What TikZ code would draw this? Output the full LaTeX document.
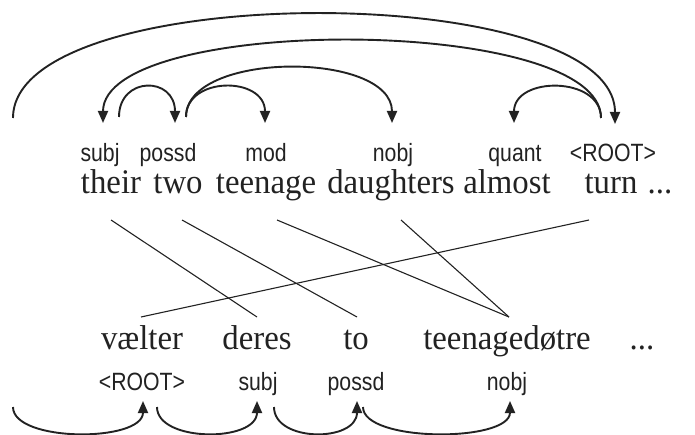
\documentclass[tikz,border=0pt]{standalone}
\usepackage{fontspec}
\setmainfont{Liberation Serif}[FakeStretch=0.95]
\newfontfamily\labfont{Liberation Sans}[FakeStretch=0.85]
\usetikzlibrary{arrows.meta}
\definecolor{ink}{HTML}{222222}
\begin{document}
\begin{tikzpicture}[x=1pt,y=-1pt,
  word/.style={font=\fontsize{34.5}{40}\selectfont, inner sep=0pt, anchor=base, text=ink},
  lab/.style={font=\labfont\fontsize{25}{29}\selectfont, inner sep=0pt, anchor=base, text=ink},
  deparc/.style={line width=1.9pt, draw=ink},
  deparrow/.style={deparc, -{Triangle[length=12pt,width=10pt]}},
  alignline/.style={line width=1.1pt, draw=ink}]
\useasboundingbox (0,0) rectangle (695,435);
% ---- English words and labels
\node[word] (their) at (111,194) {their};
\node[word] (two) at (178,194) {two};
\node[word] (teenage) at (266,194) {teenage};
\node[word] (daughters) at (391,194) {daughters};
\node[word] (almost) at (507,194) {almost};
\node[word] (turn) at (611,194) {turn};
\node[word] (dotsE) at (660,194) {...};
\node[lab] (lsubj) at (100,162) {subj};
\node[lab] (lpossd) at (168,162) {possd};
\node[lab] (lmod) at (266,162) {mod};
\node[lab] (lnobj) at (393,162) {nobj};
\node[lab] (lquant) at (515,162) {quant};
\node[lab] (lroot) at (613,162) {<ROOT>};
% ---- Danish words and labels
\node[word] (vaelter) at (142,349) {vælter};
\node[word] (deres) at (257,349) {deres};
\node[word] (to) at (356,349) {to};
\node[word] (teenagedotre) at (507,349) {teenagedøtre};
\node[word] (dotsD) at (642,349) {...};
\node[lab] (droot) at (142,390) {<ROOT>};
\node[lab] (dsubj) at (258,390) {subj};
\node[lab] (dpossd) at (356,390) {possd};
\node[lab] (dnobj) at (507,390) {nobj};
% ---- top arc endpoints
\coordinate (rootE) at (13,118);
\coordinate (turnOut) at (601,118);
\coordinate (theirOut) at (119,117);
\coordinate (twoOut) at (186,117);
\coordinate (subjIn) at (103,123);
\coordinate (twoIn) at (175,123);
\coordinate (teenIn) at (265,123);
\coordinate (daughIn) at (392,123);
\coordinate (almIn) at (514,123);
\coordinate (turnIn) at (615,124);
% ---- top arcs
\draw[deparrow] (rootE) .. controls (13,-21) and (615,-21) .. (turnIn);
\draw[deparrow] (turnOut) .. controls (601,14.5) and (103,14.5) .. (subjIn);
\draw[deparrow] (theirOut) .. controls (119,76) and (175,76) .. (twoIn);
\draw[deparrow] (twoOut) .. controls (186,76) and (265,76) .. (teenIn);
\draw[deparrow] (twoOut) .. controls (186,50.7) and (392,50.7) .. (daughIn);
\draw[deparrow] (turnOut) .. controls (601,76) and (514,76) .. (almIn);
% ---- bottom arc endpoints
\coordinate (rootD) at (13,407);
\coordinate (vaelOut) at (157,407);
\coordinate (deresOut) at (274,407);
\coordinate (toOut) at (363,407);
\coordinate (vaelIn) at (143,401);
\coordinate (deresIn) at (257,401);
\coordinate (toIn) at (357,401);
\coordinate (tdIn) at (510,401);
% ---- bottom arcs
\draw[deparrow] (rootD) .. controls (13,442.5) and (143,442.5) .. (vaelIn);
\draw[deparrow] (vaelOut) .. controls (157,442.5) and (257,442.5) .. (deresIn);
\draw[deparrow] (deresOut) .. controls (274,442.5) and (357,442.5) .. (toIn);
\draw[deparrow] (toOut) .. controls (363,442.5) and (510,442.5) .. (tdIn);
% ---- alignment lines
\coordinate (aTheir) at (111,220);
\coordinate (aTwo) at (182,220);
\coordinate (aTeen) at (277,220);
\coordinate (aDaugh) at (401,220);
\coordinate (aTurn) at (589,220);
\coordinate (bDeres) at (257,317);
\coordinate (bTo) at (357,317);
\coordinate (bTD) at (509,317);
\coordinate (bVael) at (141,317);
\draw[alignline] (aTheir) -- (bDeres);
\draw[alignline] (aTwo) -- (bTo);
\draw[alignline] (aTeen) -- (bTD);
\draw[alignline] (aDaugh) -- (bTD);
\draw[alignline] (aTurn) -- (bVael);
\end{tikzpicture}
\end{document}
